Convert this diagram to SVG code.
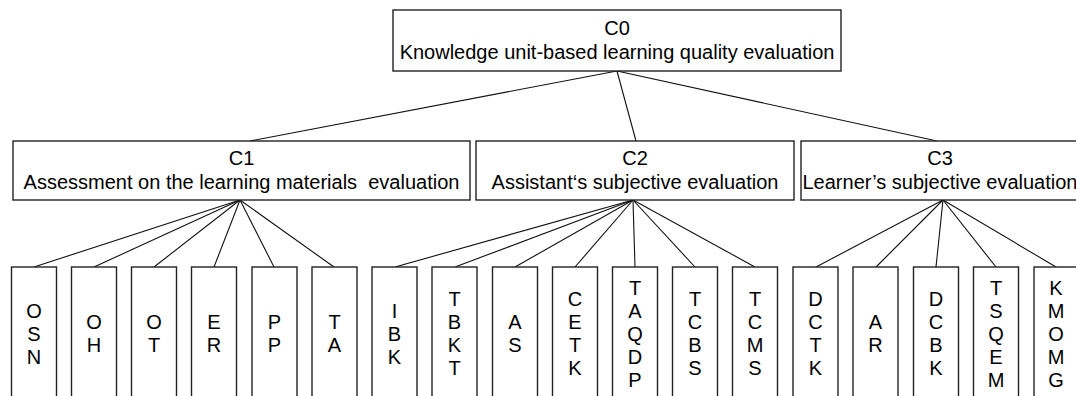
<svg xmlns="http://www.w3.org/2000/svg" width="1076" height="396" viewBox="0 0 1076 396">
<style>
.box{fill:#fff;stroke:#222;stroke-width:1.4}
.t{font-family:"Liberation Sans",Arial,sans-serif;font-size:20px;fill:#000;text-anchor:middle}
.c line{stroke:#111;stroke-width:1.1}
</style>
<rect width="1076" height="396" fill="#fff"/>
<g class="c" id="connectors">
<line x1="617" y1="71" x2="250" y2="141"/>
<line x1="617" y1="71" x2="636" y2="141"/>
<line x1="617" y1="71" x2="937" y2="141"/>
<line x1="240" y1="200" x2="34" y2="267"/>
<line x1="240" y1="200" x2="94" y2="267"/>
<line x1="240" y1="200" x2="154" y2="267"/>
<line x1="240" y1="200" x2="214" y2="267"/>
<line x1="240" y1="200" x2="274" y2="267"/>
<line x1="240" y1="200" x2="334" y2="267"/>
<line x1="633" y1="200" x2="395" y2="267"/>
<line x1="633" y1="200" x2="455" y2="267"/>
<line x1="633" y1="200" x2="515" y2="267"/>
<line x1="633" y1="200" x2="575" y2="267"/>
<line x1="633" y1="200" x2="635" y2="267"/>
<line x1="633" y1="200" x2="695" y2="267"/>
<line x1="633" y1="200" x2="755" y2="267"/>
<line x1="943" y1="200" x2="816" y2="267"/>
<line x1="943" y1="200" x2="876" y2="267"/>
<line x1="943" y1="200" x2="936" y2="267"/>
<line x1="943" y1="200" x2="996" y2="267"/>
<line x1="943" y1="200" x2="1056" y2="267"/>
</g>
<g id="C0"><rect class="box" x="393" y="10" width="448" height="61"/><text class="t" x="617" y="35">C0</text><text class="t" x="617" y="59">Knowledge unit-based learning quality evaluation</text></g>
<g id="C1"><rect class="box" x="13" y="141" width="457" height="59"/><text class="t" x="241.5" y="165">C1</text><text class="t" x="241.5" y="189" style="white-space:pre">Assessment on the learning materials  evaluation</text></g>
<g id="C2"><rect class="box" x="476" y="141" width="318" height="59"/><text class="t" x="635" y="165">C2</text><text class="t" x="635" y="189">Assistant‘s subjective evaluation</text></g>
<g id="C3"><rect class="box" x="801" y="141" width="280" height="59"/><text class="t" x="940" y="165">C3</text><text class="t" x="940" y="189">Learner’s subjective evaluation</text></g>
<g id="OSN"><rect class="box" x="11.5" y="267" width="45" height="140"/><text class="t" x="34" y="317.7"><tspan x="34">O</tspan><tspan x="34" dy="23">S</tspan><tspan x="34" dy="23">N</tspan></text></g>
<g id="OH"><rect class="box" x="71.5" y="267" width="45" height="140"/><text class="t" x="94" y="329.2"><tspan x="94">O</tspan><tspan x="94" dy="23">H</tspan></text></g>
<g id="OT"><rect class="box" x="131.5" y="267" width="45" height="140"/><text class="t" x="154" y="329.2"><tspan x="154">O</tspan><tspan x="154" dy="23">T</tspan></text></g>
<g id="ER"><rect class="box" x="191.5" y="267" width="45" height="140"/><text class="t" x="214" y="329.2"><tspan x="214">E</tspan><tspan x="214" dy="23">R</tspan></text></g>
<g id="PP"><rect class="box" x="252" y="267" width="45" height="140"/><text class="t" x="274.5" y="329.2"><tspan x="274.5">P</tspan><tspan x="274.5" dy="23">P</tspan></text></g>
<g id="TA"><rect class="box" x="312" y="267" width="45" height="140"/><text class="t" x="334.5" y="329.2"><tspan x="334.5">T</tspan><tspan x="334.5" dy="23">A</tspan></text></g>
<g id="IBK"><rect class="box" x="372" y="267" width="45" height="140"/><text class="t" x="394.5" y="317.7"><tspan x="394.5">I</tspan><tspan x="394.5" dy="23">B</tspan><tspan x="394.5" dy="23">K</tspan></text></g>
<g id="TBKT"><rect class="box" x="432" y="267" width="45" height="140"/><text class="t" x="454.5" y="306.2"><tspan x="454.5">T</tspan><tspan x="454.5" dy="23">B</tspan><tspan x="454.5" dy="23">K</tspan><tspan x="454.5" dy="23">T</tspan></text></g>
<g id="AS"><rect class="box" x="492.5" y="267" width="45" height="140"/><text class="t" x="515" y="329.2"><tspan x="515">A</tspan><tspan x="515" dy="23">S</tspan></text></g>
<g id="CETK"><rect class="box" x="552.5" y="267" width="45" height="140"/><text class="t" x="575" y="306.2"><tspan x="575">C</tspan><tspan x="575" dy="23">E</tspan><tspan x="575" dy="23">T</tspan><tspan x="575" dy="23">K</tspan></text></g>
<g id="TAQDP"><rect class="box" x="612.5" y="267" width="45" height="140"/><text class="t" x="635" y="294.7"><tspan x="635">T</tspan><tspan x="635" dy="23">A</tspan><tspan x="635" dy="23">Q</tspan><tspan x="635" dy="23">D</tspan><tspan x="635" dy="23">P</tspan></text></g>
<g id="TCBS"><rect class="box" x="672.5" y="267" width="45" height="140"/><text class="t" x="695" y="306.2"><tspan x="695">T</tspan><tspan x="695" dy="23">C</tspan><tspan x="695" dy="23">B</tspan><tspan x="695" dy="23">S</tspan></text></g>
<g id="TCMS"><rect class="box" x="732.5" y="267" width="45" height="140"/><text class="t" x="755" y="306.2"><tspan x="755">T</tspan><tspan x="755" dy="23">C</tspan><tspan x="755" dy="23">M</tspan><tspan x="755" dy="23">S</tspan></text></g>
<g id="DCTK"><rect class="box" x="793" y="267" width="45" height="140"/><text class="t" x="815.5" y="306.2"><tspan x="815.5">D</tspan><tspan x="815.5" dy="23">C</tspan><tspan x="815.5" dy="23">T</tspan><tspan x="815.5" dy="23">K</tspan></text></g>
<g id="AR"><rect class="box" x="853" y="267" width="45" height="140"/><text class="t" x="875.5" y="329.2"><tspan x="875.5">A</tspan><tspan x="875.5" dy="23">R</tspan></text></g>
<g id="DCBK"><rect class="box" x="913.5" y="267" width="45" height="140"/><text class="t" x="936" y="306.2"><tspan x="936">D</tspan><tspan x="936" dy="23">C</tspan><tspan x="936" dy="23">B</tspan><tspan x="936" dy="23">K</tspan></text></g>
<g id="TSQEM"><rect class="box" x="973.5" y="267" width="45" height="140"/><text class="t" x="996" y="294.7"><tspan x="996">T</tspan><tspan x="996" dy="23">S</tspan><tspan x="996" dy="23">Q</tspan><tspan x="996" dy="23">E</tspan><tspan x="996" dy="23">M</tspan></text></g>
<g id="KMOMG"><rect class="box" x="1034" y="267" width="45" height="140"/><text class="t" x="1056" y="294.7"><tspan x="1056">K</tspan><tspan x="1056" dy="23">M</tspan><tspan x="1056" dy="23">O</tspan><tspan x="1056" dy="23">M</tspan><tspan x="1056" dy="23">G</tspan></text></g>
</svg>
